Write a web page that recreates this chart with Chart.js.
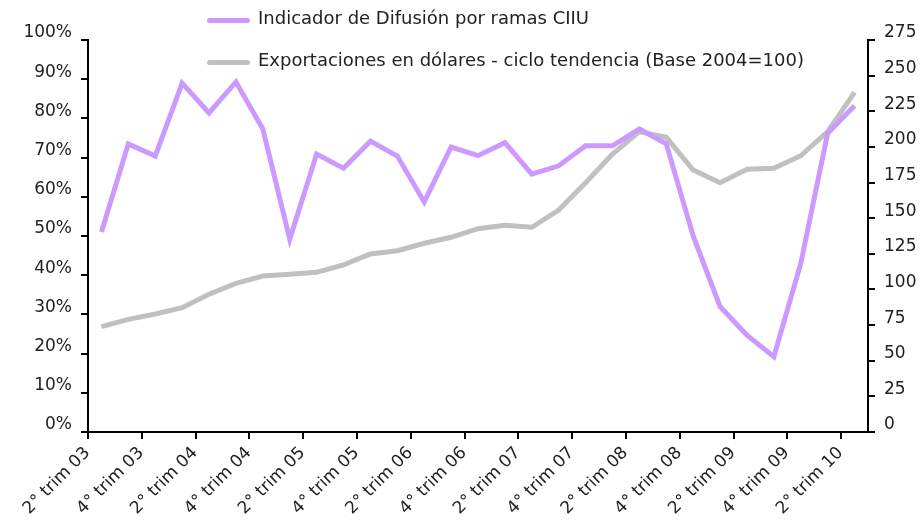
<!DOCTYPE html>
<html>
<head>
<meta charset="utf-8">
<script src="https://cdn.jsdelivr.net/npm/chart.js@4"></script>
<style>
  body { margin: 0; background: #fff; }
  #wrap { position: relative; width: 923px; height: 524px; }
  .leg { position: absolute; font-family: "DejaVu Sans", sans-serif; font-size: 18px; color: #222; white-space: nowrap; }
  .leg span.ln { position: absolute; left: 0; width: 43px; height: 5px; border-radius: 3px; }
  .leg span.tx { position: absolute; left: 51px; top: -11px; }
</style>
</head>
<body>
<div id="wrap">
  <canvas id="myChart" width="923" height="524"></canvas>
  <div class="leg" style="left:207px; top:18px;"><span class="ln" style="background:#cc99ff"></span><span class="tx">Indicador de Difusión por ramas CIIU</span></div>
  <div class="leg" style="left:207px; top:60px;"><span class="ln" style="background:#c0c0c0"></span><span class="tx">Exportaciones en dólares - ciclo tendencia (Base 2004=100)</span></div>
</div>
<script>
// trimestres 2003 II - 2010 II
const trimestres = [
  '2° trim 03', '3° trim 03', '4° trim 03', '1° trim 04',
  '2° trim 04', '3° trim 04', '4° trim 04', '1° trim 05',
  '2° trim 05', '3° trim 05', '4° trim 05', '1° trim 06',
  '2° trim 06', '3° trim 06', '4° trim 06', '1° trim 07',
  '2° trim 07', '3° trim 07', '4° trim 07', '1° trim 08',
  '2° trim 08', '3° trim 08', '4° trim 08', '1° trim 09',
  '2° trim 09', '3° trim 09', '4° trim 09', '1° trim 10',
  '2° trim 10'
];

// Indicador de difusion (%)
const difusion = [
  51, 73.5, 70.4, 89, 81.4, 89.3, 77.3, 49.2,
  70.9, 67.3, 74.2, 70.4, 58.7, 72.7, 70.5, 73.8,
  65.8, 67.9, 73, 73, 77.3, 73.5, 50, 32,
  24.7, 19.2, 43, 76.2, 83.2
];

// Exportaciones (Base 2004=100)
const exportaciones = [
  73.9, 79, 82.8, 87.2, 96.6, 104.3, 109.4, 110.6,
  112, 117.2, 124.9, 127.2, 132.4, 136.6, 142.6, 145,
  143.6, 155.7, 174.9, 195, 210.7, 206.7, 183.8, 174.9,
  184.3, 185, 193.8, 210.7, 238.3
];

const ticksIzq = [0, 10, 20, 30, 40, 50, 60, 70, 80, 90, 100];
const ticksDer = [0, 25, 50, 75, 100, 125, 150, 175, 200, 225, 250, 275];

const fuente = { family: 'DejaVu Sans', size: 17 };
const colorTexto = '#222';

const ctx = document.getElementById('myChart').getContext('2d');
new Chart(ctx, {
    type: 'line',
    data: {
        labels: trimestres,
        datasets: [{
            label: 'Indicador de Difusión por ramas CIIU',
            data: difusion,
            borderColor: '#cc99ff',
            borderWidth: 5,
            pointRadius: 0,
            tension: 0,
            yAxisID: 'y'
        }, {
            label: 'Exportaciones en dólares - ciclo tendencia (Base 2004=100)',
            data: exportaciones,
            borderColor: '#c0c0c0',
            borderWidth: 5,
            pointRadius: 0,
            tension: 0,
            yAxisID: 'y2'
        }]
    },
    options: {
        responsive: false,
        animation: false,
        layout: { padding: { top: 40, left: 0, right: 0, bottom: 0 } },
        plugins: {
            legend: { display: false },
            tooltip: { enabled: false }
        },
        scales: {
            x: {
                offset: true,
                grid: {
                    offset: true,
                    drawOnChartArea: false,
                    tickLength: 7,
                    lineWidth: 2,
                    color: c => (c.index % 2 === 0 ? '#000' : 'rgba(0,0,0,0)')
                },
                border: { color: '#000', width: 2 },
                ticks: {
                    autoSkip: false,
                    maxRotation: 45,
                    minRotation: 45,
                    labelOffset: -14,
                    padding: 4,
                    color: colorTexto,
                    font: fuente,
                    callback: function(v, i) { return i % 2 === 0 ? this.getLabelForValue(v) : ''; }
                },
                afterFit: s => { s.height = 92; }
            },
            y: {
                position: 'left',
                min: 0,
                max: 100,
                afterBuildTicks: s => { s.ticks = ticksIzq.map(v => ({ value: v })); },
                grid: { drawOnChartArea: false, tickLength: 7, lineWidth: 2, color: '#000' },
                border: { color: '#000', width: 2 },
                ticks: { padding: 9, labelOffset: -7, color: colorTexto, font: fuente, callback: v => v + '%' },
                afterFit: s => { s.width = 88; }
            },
            y2: {
                position: 'right',
                min: 0,
                max: 275,
                afterBuildTicks: s => { s.ticks = ticksDer.map(v => ({ value: v })); },
                grid: { drawOnChartArea: false, tickLength: 7, lineWidth: 2, color: '#000' },
                border: { color: '#000', width: 2 },
                ticks: { padding: 9, labelOffset: -7, color: colorTexto, font: fuente },
                afterFit: s => { s.width = 55; }
            }
        }
    }
});
</script>
</body>
</html>
